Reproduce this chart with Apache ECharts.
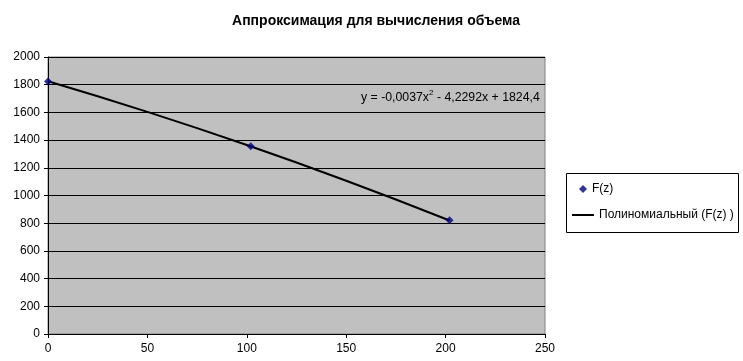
<!DOCTYPE html>
<html><head><meta charset="utf-8">
<script src="https://cdn.jsdelivr.net/npm/echarts@6/dist/echarts.min.js"></script>
<style>html,body{margin:0;padding:0;background:#fff}#c{width:743px;height:361px}</style>
</head><body><div id="c"></div>
<script>
const titleText = 'Аппроксимация для вычисления объема';
const pointsX = [0, 102, 202];
const pointsY = [1824, 1355, 822];
const trendX = [0, 25, 50, 75, 100, 125, 150, 175, 202];
const trendY = [1824.4, 1716.4, 1603.7, 1486.4, 1364.5, 1237.9, 1106.8, 971.0, 819.1];
const seriesNames = ['F(z)', 'Полиномиальный (F(z) )'];

const chart = echarts.init(document.getElementById('c'), null, {renderer: 'canvas'});
const font = 'Arial, "Liberation Sans", sans-serif';
const legendText = {fontFamily: font, fontSize: 12, color: '#000'};
chart.setOption({
  animation: false,
  title: {text: titleText, left: 371, top: 9, textAlign: 'center',
    textStyle: {fontFamily: font, fontSize: 14, fontWeight: 'bold', color: '#000'}},
  grid: {left: 48, top: 57, right: 198, bottom: 27, show: true, backgroundColor: '#c0c0c0', borderColor: '#808080', borderWidth: 1},
  xAxis: {type: 'value', min: 0, max: 250, interval: 50,
    axisLine: {lineStyle: {color: '#000'}}, axisTick: {show: true, length: 4, lineStyle: {color: '#000'}},
    axisLabel: {color: '#000', fontFamily: font, fontSize: 12, margin: 9},
    splitLine: {show: false}},
  yAxis: {type: 'value', min: 0, max: 2000, interval: 200,
    axisLine: {show: true, lineStyle: {color: '#000'}}, axisTick: {show: true, length: 4, lineStyle: {color: '#000'}},
    axisLabel: {color: '#000', fontFamily: font, fontSize: 12, margin: 8, formatter: v => String(v)},
    splitLine: {show: true, lineStyle: {color: '#000', width: 1}}},
  legend: [
    {left: 579, top: 183, padding: 0, itemWidth: 8, itemHeight: 8, textStyle: legendText,
     data: [{name: seriesNames[0], icon: 'diamond', itemStyle: {color: '#000080'}}]},
    {left: 572, top: 209, padding: 0, itemWidth: 22, itemHeight: 2, textStyle: legendText,
     data: [{name: seriesNames[1], icon: 'rect', itemStyle: {color: '#000'}}]}
  ],
  graphic: [
    {type: 'rect', shape: {x: 566.5, y: 173.5, width: 172, height: 59}, style: {fill: 'none', stroke: '#000', lineWidth: 1}, silent: true},
    {type: 'text', left: 361, top: 89, style: {
    text: '{a|y = -0,0037x}{s|2}{a| - 4,2292x + 1824,4}',
    rich: {a: {fontFamily: font, fontSize: 12.3, fill: '#000', verticalAlign: 'bottom', lineHeight: 15},
           s: {fontFamily: font, fontSize: 8, fill: '#000', verticalAlign: 'top', lineHeight: 15, padding: [0,0,7,0]}}}}],
  series: [
    {name: seriesNames[1], type: 'line', data: trendX.map((x, i) => [x, trendY[i]]), symbol: 'none', smooth: false,
     lineStyle: {color: '#000', width: 2}, itemStyle: {color: '#000'}, z: 2},
    {name: seriesNames[0], type: 'scatter', data: pointsX.map((x, i) => [x, pointsY[i]]), symbol: 'diamond', symbolSize: 8,
     itemStyle: {color: '#000080'}, z: 3}
  ]
});
</script></body></html>
